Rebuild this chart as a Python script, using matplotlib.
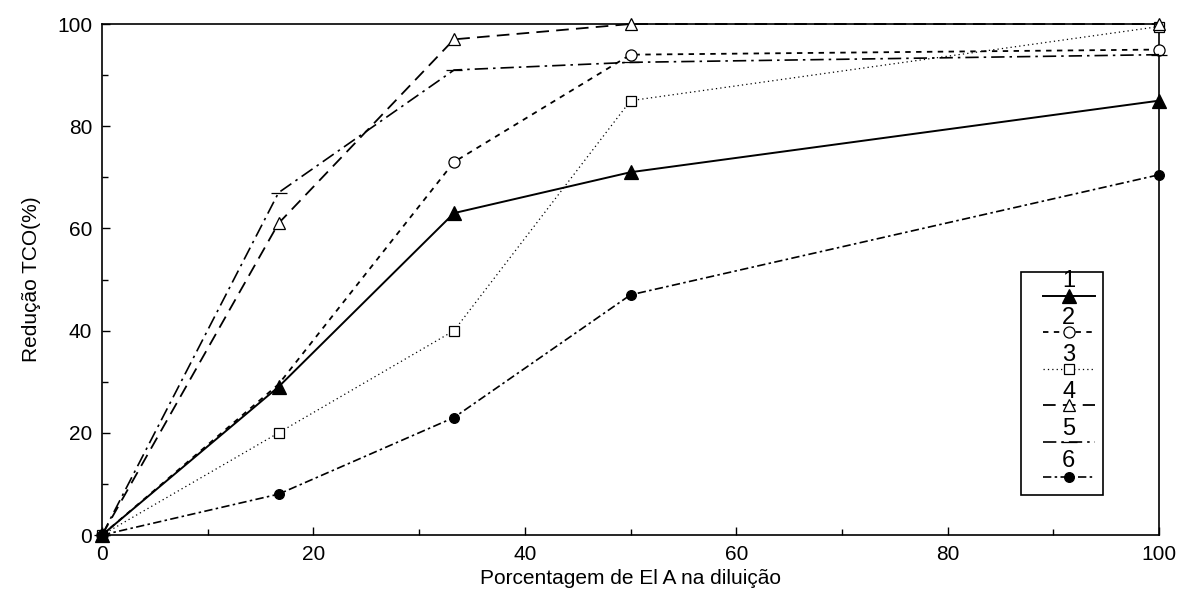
import matplotlib
matplotlib.use("Agg")
from matplotlib import pyplot as plt
from matplotlib.patches import Rectangle
from matplotlib.ticker import MultipleLocator

plt.rcParams['font.family'] = ['Liberation Sans', 'DejaVu Sans']

# Data
diluicao = [0, 16.7, 33.3, 50, 100]
serie_1 = [0, 29, 63, 71, 85]
serie_2 = [0, 29.5, 73, 94, 95]
serie_3 = [0, 20, 40, 85, 99.5]
serie_4 = [0, 61, 97, 100, 100]
serie_5 = [0, 67, 91, 92.5, 94]
serie_6 = [0, 8, 23, 47, 70.5]
labels = ["1", "2", "3", "4", "5", "6"]

series = [serie_1, serie_2, serie_3, serie_4, serie_5, serie_6]
styles = [
    dict(ls='-', lw=1.4, marker='^', mfc='black', ms=10, zorder=6),
    dict(ls=(0, (3, 3)), lw=1.3, marker='o', mfc='white', ms=8, zorder=3),
    dict(ls=(0, (1, 2.5)), lw=0.9, marker='s', mfc='white', ms=7, zorder=3),
    dict(ls=(0, (7, 4)), lw=1.3, marker='^', mfc='white', ms=9, zorder=3),
    dict(ls=(0, (8, 3, 1.5, 3)), lw=1.2, marker='_', mfc='black', ms=12, zorder=4),
    dict(ls=(0, (5, 2, 1.5, 2)), lw=1.2, marker='o', mfc='black', ms=7, zorder=5),
]
# series 2 marker at x=16.7 is hidden under series 1 in the original
mark_idx = [None, [0, 2, 3, 4], None, None, None, None]

fig = plt.figure(figsize=(11.85, 6.08), dpi=100)
ax = fig.add_axes([0.0861, 0.120, 0.8920, 0.8405])

for ys, st, mi in zip(series, styles, mark_idx):
    ax.plot(diluicao, ys, color='black', mec='black', mew=0.9, clip_on=False,
            markevery=mi, **st)

ax.set_xlim(0, 100)
ax.set_ylim(0, 100)
ax.xaxis.set_major_locator(MultipleLocator(20))
ax.xaxis.set_minor_locator(MultipleLocator(10))
ax.yaxis.set_major_locator(MultipleLocator(20))
ax.yaxis.set_minor_locator(MultipleLocator(10))
ax.tick_params(which='both', direction='in', labelsize=15, width=1, pad=7)
ax.tick_params(which='major', length=6)
ax.tick_params(which='minor', length=4)
for sp in ax.spines.values():
    sp.set_linewidth(1.2)

ax.set_xlabel("Porcentagem de El A na diluição", fontsize=15, labelpad=4)
ax.set_ylabel("Redução TCO(%)", fontsize=15, labelpad=12)

# Legend drawn by hand: number above each line sample
bx0, bx1 = 0.8690, 0.9470
by0, by1 = 0.0780, 0.5150
ax.add_patch(Rectangle((bx0, by0), bx1 - bx0, by1 - by0, transform=ax.transAxes,
                       fill=True, fc='white', ec='black', lw=1.2, zorder=7))
num_y = [0.497, 0.425, 0.352, 0.280, 0.208, 0.145]
line_y = [0.467, 0.398, 0.325, 0.255, 0.182, 0.114]
for lab, st, ny, ly in zip(labels, styles, num_y, line_y):
    st2 = dict(st)
    st2['zorder'] = 8
    ax.plot([0.8900, 0.9145, 0.9390], [ly, ly, ly], transform=ax.transAxes,
            color='black', mec='black', mew=0.9, markevery=[1], clip_on=False, **st2)
    ax.text(0.9145, ny, lab, transform=ax.transAxes, ha='center', va='center',
            fontsize=17, zorder=8)

fig.savefig("out.png", dpi=100)
